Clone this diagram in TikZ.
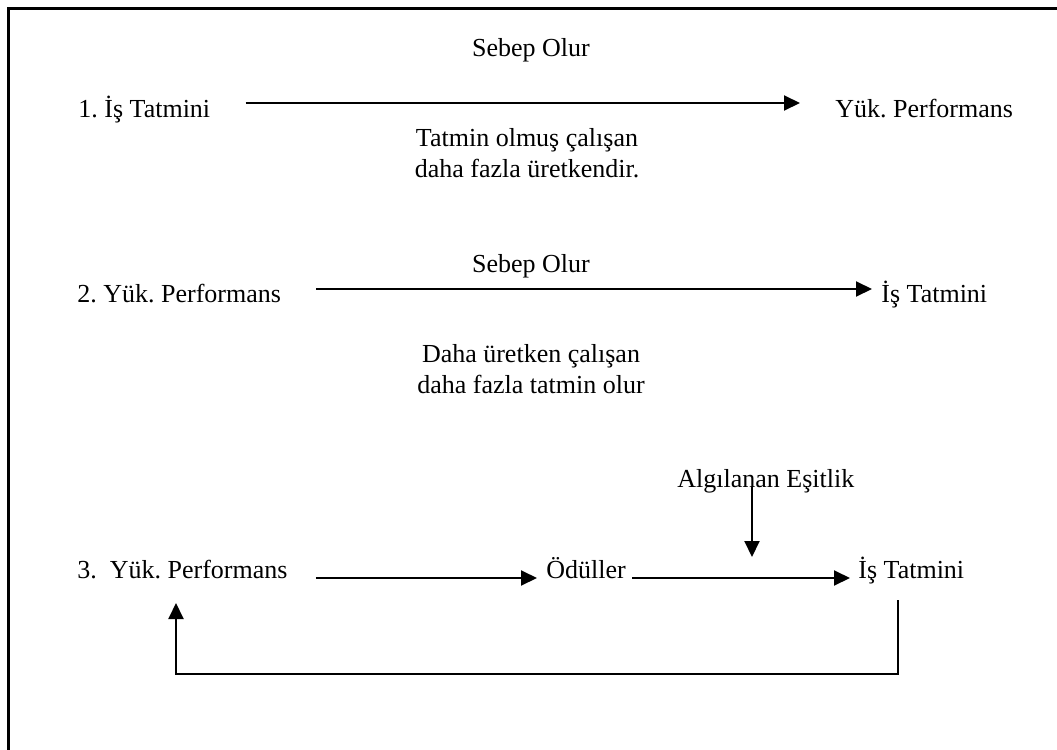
\documentclass[tikz,border=0pt]{standalone}
\usepackage{fontspec}
\setmainfont{Liberation Serif}
\usepackage{tikz}
\usetikzlibrary{arrows.meta,positioning,calc}
\tikzset{every node/.style={ % Sets the properties for each text
            inner sep=0pt,
            font=\fontsize{13pt}{15.5pt}\selectfont},
        remark/.style={ % Two-line explanations under the arrows
            align=center,
            anchor=base}, % base = baseline of the last line
        flow/.style={ % Sets the properties for each arrow
            draw,
            -{Triangle[length=8pt,width=7.5pt]}, % Filled triangle heads
            line width=1pt},
        frame/.style={ % Scanned page border (top and left only)
            draw,
            line width=1.5pt}
        }

\begin{document}
\frenchspacing
\begin{tikzpicture}[x=0.5pt,y=-0.5pt]
    \useasboundingbox (0,0) rectangle (1057,750);
    \draw[frame] (1057,8) -- (8,8) -- (8,750);

    % 1.
    \node[anchor=base]      (cause1) at (531,56)  {Sebep Olur};
    \node[anchor=base west] (sat1)   at (78,117)  {1. İş Tatmini};
    \node[anchor=base west] (perf1)  at (835,117) {Yük. Performans};
    \node[remark]           (expl1)  at (527,177) {Tatmin olmuş çalışan\\daha fazla üretkendir.};

    % 2.
    \node[anchor=base]      (cause2) at (531,272) {Sebep Olur};
    \node[anchor=base west] (perf2)  at (77,302)  {2. Yük. Performans};
    \node[anchor=base west] (sat2)   at (881,302) {İş Tatmini};
    \node[remark]           (expl2)  at (531,393) {Daha üretken çalışan\\daha fazla tatmin olur};

    % 3.
    \node[anchor=base west] (equity) at (677,487) {Algılanan Eşitlik};
    \node[anchor=base west] (perf3)  at (77,578)  {3.\ \ Yük. Performans};
    \node[anchor=base west] (reward) at (546,578) {Ödüller};
    \node[anchor=base west] (sat3)   at (858,578) {İş Tatmini};
    \coordinate (eqtip) at (752,557);
    \coordinate (loopR) at (898,674);
    \coordinate (loopL) at (176,674);

    \draw[flow, shorten <=17.5pt, shorten >=17.5pt]
        ([yshift=7pt]sat1.base east) -- ([yshift=7pt]perf1.base west);
    \draw[flow, shorten <=17.5pt, shorten >=4.5pt]
        ([yshift=6.5pt]perf2.base east) -- ([yshift=6.5pt]sat2.base west);
    \draw[flow, shorten <=14pt, shorten >=4.5pt]
        (perf3.base east) -- (reward.base west);
    \draw[flow, shorten <=3pt, shorten >=4pt]
        (reward.base east) -- (sat3.base west);
    \draw[flow] (equity.base -| eqtip) -- (eqtip);
    \draw[flow]
        ([yshift=-11pt]sat3.base -| loopR) -- (loopR) -- (loopL)
            -- ([yshift=-12.5pt]perf3.base -| loopL);
\end{tikzpicture}
\end{document}
